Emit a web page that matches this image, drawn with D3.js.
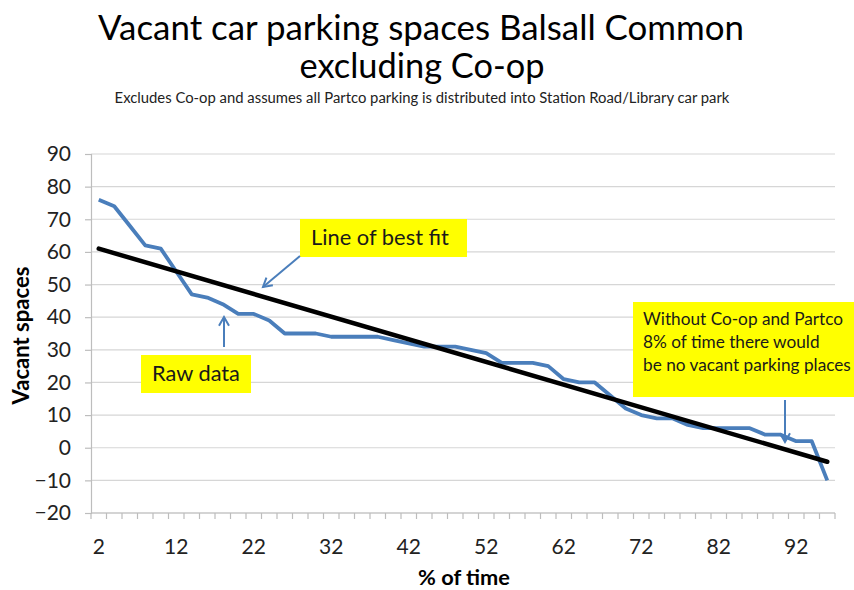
<!DOCTYPE html>
<html>
<head>
<meta charset="utf-8">
<script src="https://cdn.jsdelivr.net/npm/d3@7"></script>
<style>
  body { margin: 0; background: #fff; }
  svg { display: block; font-family: Lato, "Noto Sans", sans-serif; }
</style>
</head>
<body>
<div id="chart"></div>
<script>
// --- data ---
const pctTime = [2, 4, 6, 8, 10, 12, 14, 16, 18, 20, 22, 24, 26, 28, 30, 32,
  34, 36, 38, 40, 42, 44, 46, 48, 50, 52, 54, 56, 58, 60, 62, 64,
  66, 68, 70, 72, 74, 76, 78, 80, 82, 84, 86, 88, 90, 92, 94, 96];
const vacantSpaces = [76, 74, 68, 62, 61, 54, 47, 46, 44, 41, 41, 39, 35, 35, 35, 34,
  34, 34, 34, 33, 32, 31, 31, 31, 30, 29, 26, 26, 26, 25, 21, 20,
  20, 16, 12, 10, 9, 9, 7, 6, 6, 6, 6, 4, 4, 2, 2, -10];
// line of best fit, ends as drawn
const fitPct = [2, 96];
const fitValues = [61, -4.3];
const yTicks = [90, 80, 70, 60, 50, 40, 30, 20, 10, 0, -10, -20];
const xLabels = [2, 12, 22, 32, 42, 52, 62, 72, 82, 92];

const width = 854, height = 590;
const margin = { top: 154, right: 19, bottom: 77, left: 91 };
const plotW = width - margin.left - margin.right;
const plotH = height - margin.top - margin.bottom;

const svg = d3.select("#chart").append("svg")
  .attr("width", width)
  .attr("height", height);

const x = d3.scaleBand()
  .domain(pctTime)
  .range([margin.left, margin.left + plotW])
  .padding(0);
const cx = d => x(d) + x.bandwidth() / 2;

const y = d3.scaleLinear()
  .domain([-20, 90])
  .range([margin.top + plotH, margin.top]);

// squeeze/stretch text so it spans the same width as the reference
function fitWidth(sel, target) {
  const w = sel.node().getComputedTextLength();
  const fs = parseFloat(sel.attr("font-size"));
  sel.attr("font-size", fs * target / w);
  return sel;
}

// --- titles ---
const titleGroup = svg.append("g").attr("fill", "#000").attr("text-anchor", "middle");
fitWidth(titleGroup.append("text").attr("x", 421).attr("y", 40).attr("font-size", 36)
  .text("Vacant car parking spaces Balsall Common"), 646);
fitWidth(titleGroup.append("text").attr("x", 422).attr("y", 78).attr("font-size", 36)
  .text("excluding Co-op"), 245);
fitWidth(titleGroup.append("text").attr("x", 422).attr("y", 103).attr("font-size", 13)
  .attr("fill", "#222")
  .text("Excludes Co-op and assumes all Partco parking is distributed into Station Road/Library car park"), 615);

// --- gridlines ---
svg.append("g")
  .selectAll("line")
  .data(yTicks)
  .join("line")
  .attr("x1", margin.left)
  .attr("x2", margin.left + plotW)
  .attr("y1", d => y(d))
  .attr("y2", d => y(d))
  .attr("stroke", "#d6d6d6")
  .attr("stroke-width", 1.2);

// --- y axis ---
const yAxis = d3.axisLeft(y).tickValues(yTicks).tickSize(6).tickPadding(14);
const yAxisG = svg.append("g")
  .attr("transform", `translate(${margin.left},0)`)
  .call(yAxis);
yAxisG.select(".domain").attr("stroke", "#bdbdbd").attr("stroke-width", 1.2);
yAxisG.selectAll(".tick line").attr("stroke", "#bdbdbd").attr("stroke-width", 1.2);
yAxisG.selectAll(".tick text")
  .attr("font-size", 21)
  .attr("fill", "#222")
  .attr("font-family", "Lato, sans-serif");

// --- x axis: tick marks on category boundaries, labels every 5th category ---
const xAxisG = svg.append("g").attr("transform", `translate(0,${margin.top + plotH})`);
xAxisG.append("line")
  .attr("x1", margin.left).attr("x2", margin.left + plotW)
  .attr("stroke", "#bdbdbd").attr("stroke-width", 1.2);
const boundaries = pctTime.map(d => x(d)).concat([margin.left + plotW]);
xAxisG.selectAll("line.tk")
  .data(boundaries)
  .join("line")
  .attr("class", "tk")
  .attr("x1", d => d).attr("x2", d => d)
  .attr("y1", 0).attr("y2", 6)
  .attr("stroke", "#bdbdbd").attr("stroke-width", 1.2);
xAxisG.selectAll("text")
  .data(xLabels)
  .join("text")
  .attr("x", d => cx(d))
  .attr("y", 41)
  .attr("text-anchor", "middle")
  .attr("font-size", 21)
  .attr("fill", "#222")
  .text(d => d);

// --- axis titles ---
fitWidth(svg.append("text")
  .attr("transform", `translate(29,${margin.top + plotH / 2 + 2}) rotate(-90)`)
  .attr("text-anchor", "middle")
  .attr("font-size", 19)
  .attr("font-weight", "bold")
  .text("Vacant spaces"), 138);
fitWidth(svg.append("text")
  .attr("x", 464)
  .attr("y", 585)
  .attr("text-anchor", "middle")
  .attr("font-size", 19)
  .attr("font-weight", "bold")
  .text("% of time"), 92);

// --- raw data line ---
const rawLine = d3.line().x(d => cx(d[0])).y(d => y(d[1]));
svg.append("path")
  .datum(d3.zip(pctTime, vacantSpaces))
  .attr("d", rawLine)
  .attr("fill", "none")
  .attr("stroke", "#4a7ebb")
  .attr("stroke-width", 3.8)
  .attr("stroke-linejoin", "round");

// --- best fit line ---
svg.append("path")
  .datum(d3.zip(fitPct, fitValues))
  .attr("d", rawLine)
  .attr("fill", "none")
  .attr("stroke", "#000")
  .attr("stroke-width", 4.5)
  .attr("stroke-linecap", "round");

// --- callouts ---
function arrow(x1, y1, x2, y2) {
  const g = svg.append("g").attr("stroke", "#4a7ebb").attr("stroke-width", 2).attr("fill", "none");
  g.append("line").attr("x1", x1).attr("y1", y1).attr("x2", x2).attr("y2", y2);
  const a = Math.atan2(y2 - y1, x2 - x1);
  const len = 10, spread = Math.PI / 6;
  g.append("path")
    .attr("d", `M${x2 - len * Math.cos(a - spread)},${y2 - len * Math.sin(a - spread)}` +
      `L${x2},${y2}L${x2 - len * Math.cos(a + spread)},${y2 - len * Math.sin(a + spread)}`);
}

function callout(bx, by, bw, bh, lines, tx, baselines, fs, targetW) {
  const g = svg.append("g");
  g.append("rect").attr("x", bx).attr("y", by).attr("width", bw).attr("height", bh).attr("fill", "#ffff00");
  const texts = lines.map((t, i) => g.append("text")
    .attr("x", tx).attr("y", baselines[i])
    .attr("font-size", fs).attr("fill", "#1a1a1a").text(t));
  if (targetW) {
    const longest = texts.reduce((m, t) => t.node().getComputedTextLength() > m.node().getComputedTextLength() ? t : m);
    const ratio = targetW / longest.node().getComputedTextLength();
    texts.forEach(t => t.attr("font-size", fs * ratio));
  }
}

callout(300, 219, 167, 38, ["Line of best fit"], 311, [245], 20, 138);
arrow(300, 256, 263, 287);

callout(141, 355, 110, 38, ["Raw data"], 152, [381], 20, 88);
arrow(224, 347, 224, 317);

callout(633, 302, 221, 95,
  ["Without Co-op and Partco", "8% of time there would", "be no vacant parking places"],
  643, [325, 348, 371], 16, 208);
arrow(785, 400, 785, 442);
</script>
</body>
</html>
